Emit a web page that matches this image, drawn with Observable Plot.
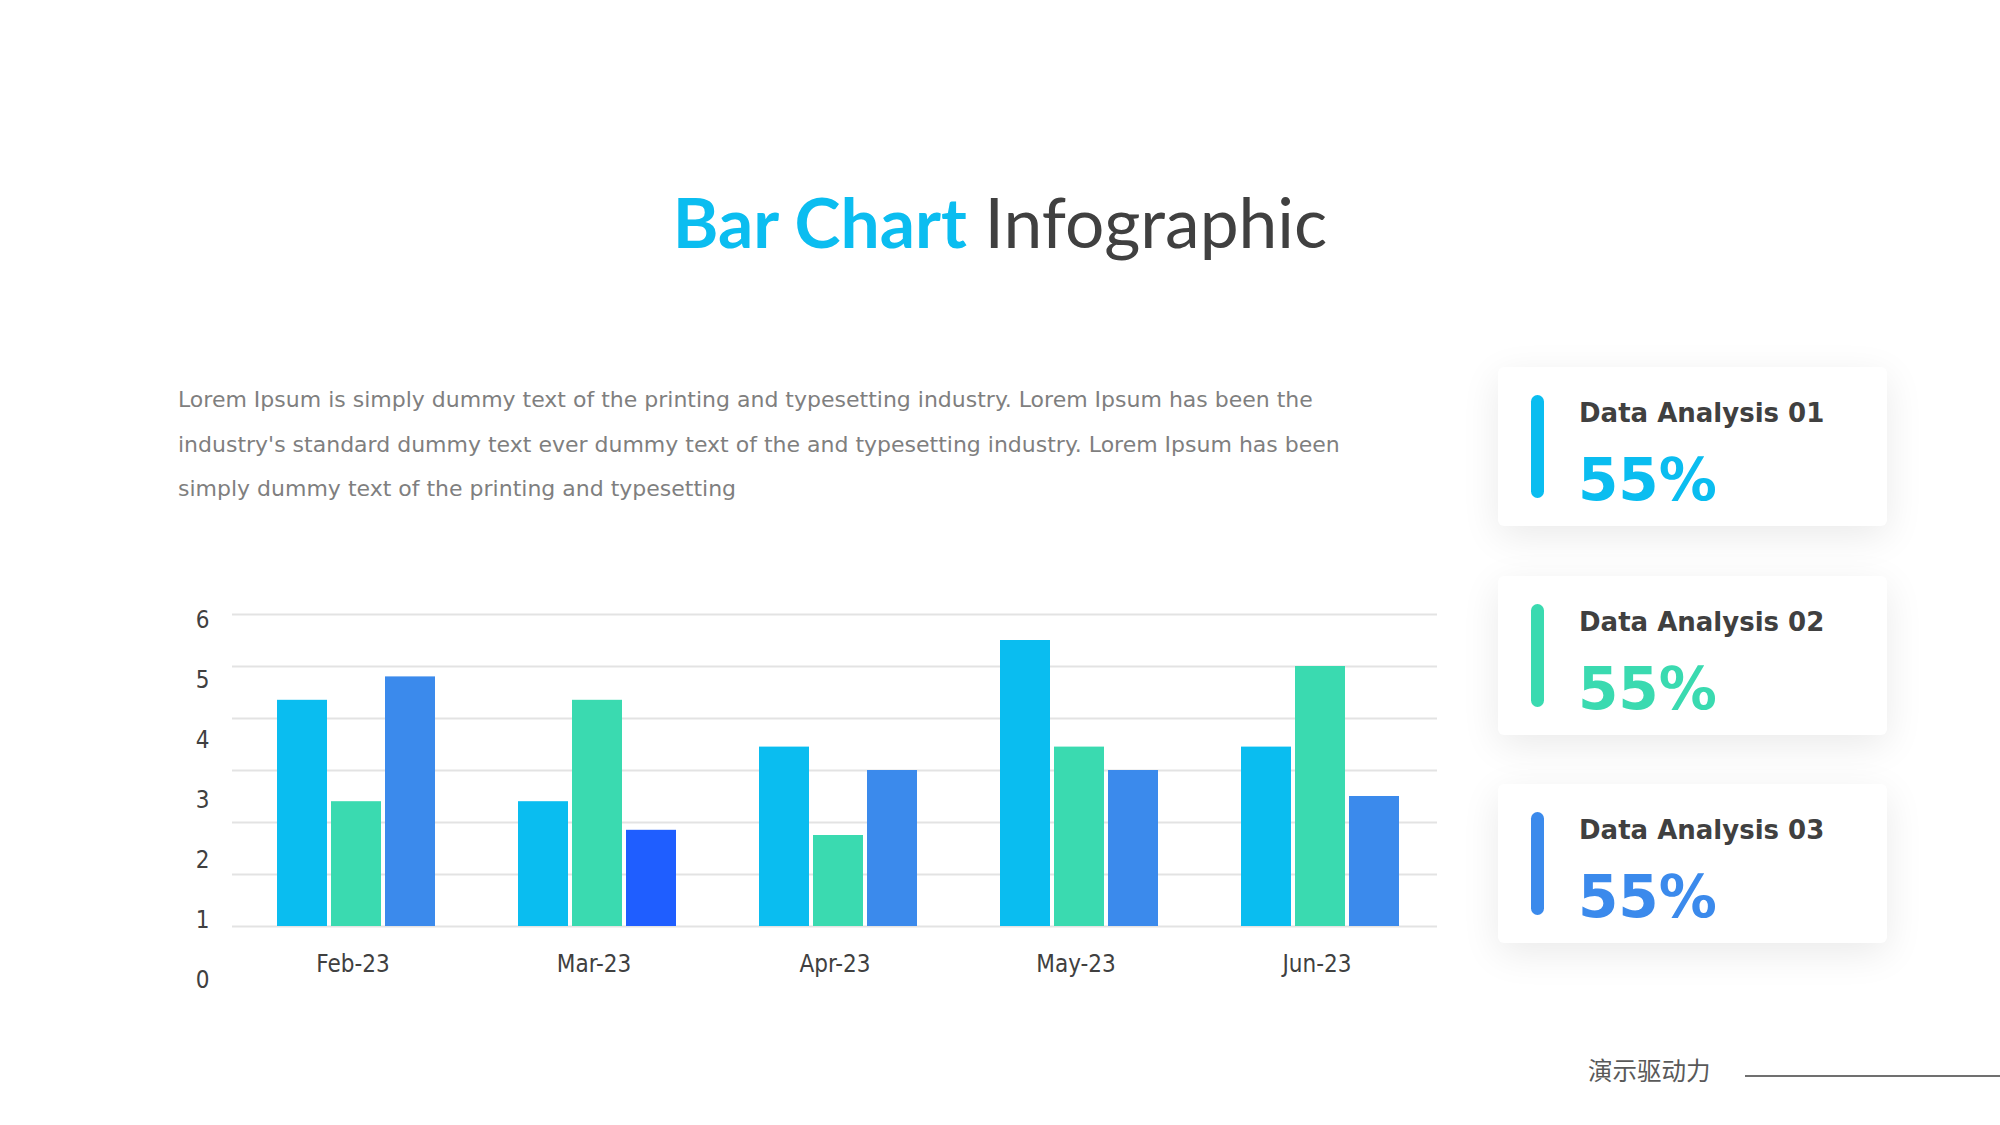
<!DOCTYPE html>
<html>
<head>
<meta charset="utf-8">
<script src="https://cdn.jsdelivr.net/npm/d3@7"></script>
<script src="https://cdn.jsdelivr.net/npm/@observablehq/plot@0.6"></script>
<style>
  html, body { margin: 0; padding: 0; background: #ffffff; }
  #page { position: relative; width: 2000px; height: 1125px; overflow: hidden; background: #ffffff; }
  .abs { position: absolute; white-space: nowrap; }
  #title { left: 0; width: 2000px; text-align: center; top: 187px; font-family: Lato, "Open Sans", sans-serif;
           font-size: 69.5px; line-height: 69.5px; color: #404040; }
  #title .hl { color: #0BBDF0; font-weight: 700; }
  #para { left: 178px; top: 378px; font-family: "DejaVu Sans", sans-serif;
          font-size: 22px; line-height: 44.5px; color: #7f7f7f; }
  .card { position: absolute; left: 1498px; width: 389px; height: 159px; background: #ffffff; border-radius: 6px;
          box-shadow: 0 10px 38px rgba(0,0,0,0.085); }
  .card .accent { position: absolute; left: 33px; top: 28px; width: 13px; height: 103px; border-radius: 7px; }
  .card .ctitle { position: absolute; left: 81px; top: 33px; font-family: "DejaVu Sans", sans-serif; font-weight: 700;
                  font-size: 26px; line-height: 26px; color: #404040; white-space: nowrap; }
  .card .cval { position: absolute; left: 80px; top: 84px; font-family: "DejaVu Sans", sans-serif; font-weight: 700;
                font-size: 58px; line-height: 58px; white-space: nowrap; }
  #footer { left: 1588px; top: 1058px; font-family: "Noto Sans CJK SC", sans-serif; font-size: 24.5px; line-height: 24px; color: #595959; }
  #footline { left: 1745px; top: 1075px; width: 255px; height: 1.5px; background: #707070; }
  #chart, #yaxis { position: absolute; left: 150px; top: 580px; }
</style>
</head>
<body>
<div id="page">
  <div id="title" class="abs"><span class="hl">Bar Chart</span> Infographic</div>
  <div id="para" class="abs"></div>
  <div id="cards"></div>
  <div id="yaxis"></div>
  <div id="chart"></div>
  <div id="footer" class="abs">演示驱动力</div>
  <div id="footline" class="abs"></div>
</div>
<script>
// ---- data ----
const months = ["Feb-23", "Mar-23", "Apr-23", "May-23", "Jun-23"];
const seriesNames = ["Series 1", "Series 2", "Series 3"];
const series1 = [4.35, 2.4, 3.45, 5.5, 3.45];
const series2 = [2.4, 4.35, 1.75, 3.45, 5.0];
const series3 = [4.8, 1.85, 3.0, 3.0, 2.5];
const seriesColors = ["#0ABDF0", "#3ADAB0", "#3B8AEC"];
const highlightBar = { month: "Mar-23", series: "Series 3", color: "#1F5EFF" };
const yTicks = [0, 1, 2, 3, 4, 5, 6];

const paragraphLines = [
  "Lorem Ipsum is simply dummy text of the printing and typesetting industry. Lorem Ipsum has been the",
  "industry's standard dummy text ever dummy text of the and typesetting industry. Lorem Ipsum has been",
  "simply dummy text of the printing and typesetting"
];
const cardTitles = ["Data Analysis 01", "Data Analysis 02", "Data Analysis 03"];
const cardValues = ["55%", "55%", "55%"];
const cardColors = ["#0ABDF0", "#3ADAB0", "#3B8AEC"];
const cardTops = [367, 576, 784];

// ---- text blocks ----
document.getElementById("para").innerHTML = paragraphLines.join("<br>");
const cardsEl = document.getElementById("cards");
cardTitles.forEach((t, i) => {
  const c = document.createElement("div");
  c.className = "card";
  c.style.top = cardTops[i] + "px";
  c.innerHTML = `<div class="accent" style="background:${cardColors[i]}"></div>
    <div class="ctitle">${t}</div>
    <div class="cval" style="color:${cardColors[i]}">${cardValues[i]}</div>`;
  cardsEl.appendChild(c);
});

// ---- chart ----
const rows = months.flatMap((m, i) =>
  [series1, series2, series3].map((s, j) => ({ month: m, series: seriesNames[j], value: s[i] }))
);
const colorOf = Object.fromEntries(seriesNames.map((s, j) => [s, seriesColors[j]]));
const fillOf = d => (d.month === highlightBar.month && d.series === highlightBar.series) ? highlightBar.color : colorOf[d.series];

const baseStyle = {
  background: "transparent",
  fontSize: "24px",
  fontFamily: "'DejaVu Sans Condensed', 'DejaVu Sans', sans-serif",
  fontStretch: "condensed",
  color: "#404040",
  overflow: "visible"
};

const chart = Plot.plot({
  width: 1320,
  height: 420,
  marginLeft: 82,
  marginRight: 33,
  marginTop: 34,
  marginBottom: 74,
  style: baseStyle,
  facet: { data: rows, x: "month" },
  fx: { domain: months, padding: 0, axis: "bottom", label: null, tickSize: 0, tickPadding: 28 },
  x: { domain: seriesNames, axis: null, paddingInner: 0.074, paddingOuter: 0.768, align: 0.54 },
  y: { domain: [0, 6], axis: null },
  marks: [
    Plot.ruleY(yTicks, { stroke: "#e3e3e3", strokeWidth: 2 }),
    Plot.barY(rows, { x: "series", y: "value", fill: fillOf })
  ]
});
document.getElementById("chart").appendChild(chart);

const yaxis = Plot.plot({
  width: 100,
  height: 420,
  marginLeft: 59,
  marginRight: 41,
  marginTop: 40,
  marginBottom: 20,
  style: baseStyle,
  y: { domain: [0, 6], ticks: yTicks, tickFormat: d3.format("d"), tickSize: 0, tickPadding: 0, label: null },
  marks: [Plot.ruleY(yTicks, { strokeOpacity: 0 })]
});
document.getElementById("yaxis").appendChild(yaxis);
</script>
</body>
</html>
